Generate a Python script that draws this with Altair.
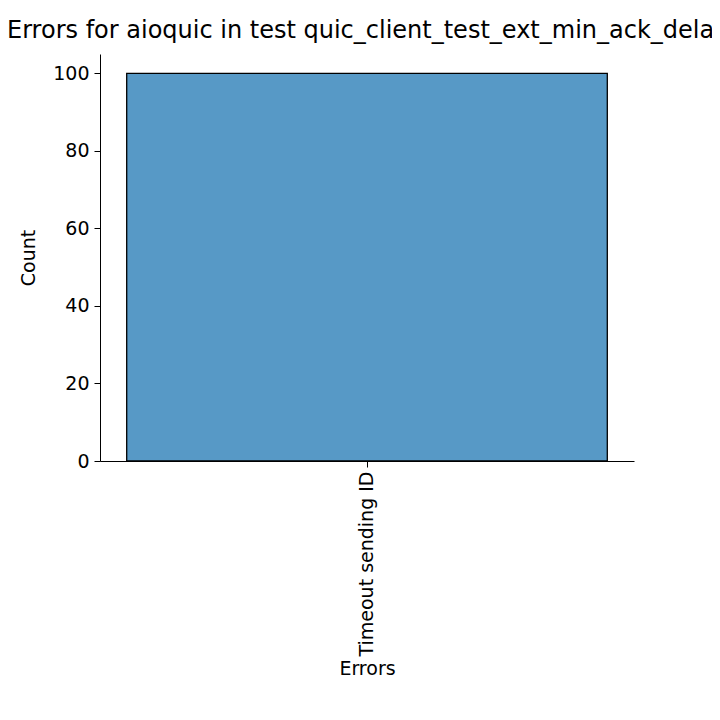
import altair as alt
import pandas as pd

errors = ["Timeout sending ID"]
counts = [100]

df = pd.DataFrame({"Errors": errors, "Count": counts})

axis_style = dict(labelFontSize=19, titleFontSize=19, labelColor="black",
                  titleColor="black", titleFontWeight="normal",
                  domainColor="black", tickColor="black", tickSize=6)

chart = (
    alt.Chart(df)
    .mark_bar(color="#5799c6", stroke="black", strokeWidth=1.3)
    .encode(
        x=alt.X("Errors:N", title="Errors",
                scale=alt.Scale(paddingInner=0.1, paddingOuter=0.05),
                axis=alt.Axis(labelAngle=270, labelPadding=4, titlePadding=4,
                              labelLimit=400, **axis_style)),
        y=alt.Y("Count:Q", title="Count",
                scale=alt.Scale(domain=[0, 105], nice=False),
                axis=alt.Axis(values=[0, 20, 40, 60, 80, 100], grid=False,
                              labelPadding=5, titlePadding=14, **axis_style)),
    )
    .properties(
        width=534,
        height=407,
        autosize=alt.AutoSizeParams(type="none"),
        padding={"left": 92, "top": 46, "right": 78, "bottom": 251},
        title=alt.TitleParams("Errors for aioquic in test quic_client_test_ext_min_ack_delay",
                              anchor="start", frame="group", dx=-93, offset=11,
                              fontSize=24, fontWeight="normal", color="black"),
    )
    .configure(font="DejaVu Sans")
    .configure_view(stroke=None)
)

chart.save("out.html", embed_options={"renderer": "svg", "actions": False})
